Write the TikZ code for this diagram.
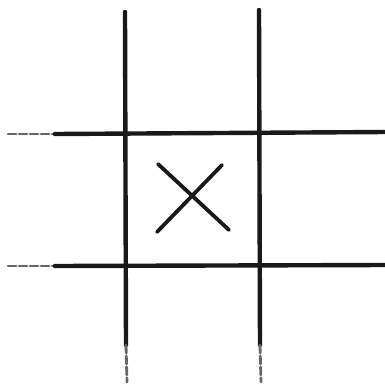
\documentclass[tikz,border=0pt]{standalone}
\usepackage{tikz}
\usetikzlibrary{calc}

\tikzset{
  penline/.style={line width=2.2pt,line cap=round,black!90},
  fadeline/.style={line width=1.4pt,line cap=round,black!60,dash pattern=on 4pt off 1.5pt},
}

\begin{document}
\begin{tikzpicture}[x=0.5pt,y=-0.5pt]
  \useasboundingbox (0,0) rectangle (385,387);
  % grid lines
  \coordinate (V1top) at (125,12);
  \coordinate (V1mid) at (126,345);
  \coordinate (V1bot) at (127,382);
  \coordinate (V2top) at (259,10);
  \coordinate (V2mid) at (260,345);
  \coordinate (V2bot) at (261,382);
  \coordinate (H1l) at (8,134);
  \coordinate (H1m) at (55,134);
  \coordinate (H1r) at (385,132);
  \coordinate (H2l) at (8,266);
  \coordinate (H2m) at (55,266);
  \coordinate (H2r) at (385,265);
  \draw[penline] (V1top) -- (V1mid);
  \draw[fadeline] (V1mid) -- (V1bot);
  \draw[penline] (V2top) -- (V2mid);
  \draw[fadeline] (V2mid) -- (V2bot);
  \draw[fadeline] (H1l) -- (H1m);
  \draw[penline] (H1m) -- (H1r);
  \draw[fadeline] (H2l) -- (H2m);
  \draw[penline] (H2m) -- (H2r);
  % the cross
  \coordinate (Xa) at (158,164);
  \coordinate (Xb) at (229,230);
  \coordinate (Xc) at (222,165);
  \coordinate (Xd) at (157,232);
  \draw[penline,line width=1.9pt] (Xa) -- (Xb);
  \draw[penline,line width=1.9pt] (Xc) -- (Xd);
\end{tikzpicture}
\end{document}
